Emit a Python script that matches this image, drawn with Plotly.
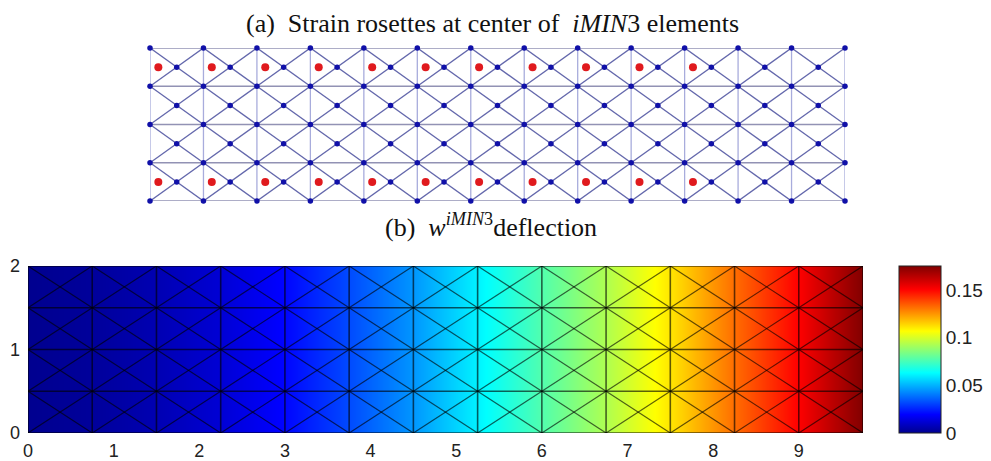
import plotly.graph_objects as go

W, H = 991, 461
node_x = [0, 0.75, 1.5, 2.25, 3.0, 3.75, 4.5, 5.25, 6.0, 6.75, 7.5, 8.25, 9.0, 9.75]
node_y = [0, 0.5, 1.0, 1.5, 2.0]
deflection = [0.0, 0.002, 0.006, 0.012, 0.020, 0.032, 0.045, 0.061, 0.077, 0.093, 0.111, 0.132, 0.151, 0.175]
rosette_x = [0.117, 0.867, 1.617, 2.367, 3.117, 3.867, 4.617, 5.367, 6.117, 6.867, 7.617]
rosette_y = [0.25, 1.75]
x_ticks = [0, 1, 2, 3, 4, 5, 6, 7, 8, 9]
y_ticks = [0, 1, 2]
cbar_ticks = [0, 0.05, 0.1, 0.15]
title_a = "(a)  Strain rosettes at center of  <i>iMIN</i>3 elements"
title_b = "(b)  <i>w</i><sup><i>iMIN</i>3</sup>deflection"

jet = [[0, "#00008f"], [0.11, "#0000ff"], [0.36, "#00ffff"], [0.61, "#ffff00"],
       [0.86, "#ff0000"], [1, "#800000"]]

def segs(pairs):
    xs, ys = [], []
    for (x0, y0), (x1, y1) in pairs:
        xs += [x0, x1, None]
        ys += [y0, y1, None]
    return xs, ys

horiz = [((node_x[0], y), (node_x[-1], y)) for y in node_y]
vert = [((x, node_y[0]), (x, node_y[-1])) for x in node_x]
diag = []
for i in range(len(node_x) - 1):
    for j in range(len(node_y) - 1):
        diag.append(((node_x[i], node_y[j]), (node_x[i + 1], node_y[j + 1])))
        diag.append(((node_x[i], node_y[j + 1]), (node_x[i + 1], node_y[j])))
corner_x = [x for x in node_x for _ in node_y]
corner_y = [y for _ in node_x for y in node_y]
mid_x, mid_y = [], []
for i in range(len(node_x) - 1):
    for j in range(len(node_y) - 1):
        mid_x.append((node_x[i] + node_x[i + 1]) / 2)
        mid_y.append((node_y[j] + node_y[j + 1]) / 2)

fig = go.Figure()
# (a) mesh
for pairs, col, w in [(horiz, "#9292b4", 1.5), (vert, "#a8acdc", 1.3), (diag, "#6468ac", 1.4)]:
    xs, ys = segs(pairs)
    fig.add_trace(go.Scatter(x=xs, y=ys, mode="lines", line=dict(color=col, width=w),
                             xaxis="x", yaxis="y", showlegend=False, cliponaxis=False))
fig.add_trace(go.Scatter(x=corner_x + mid_x, y=corner_y + mid_y, mode="markers",
                         marker=dict(color="#1010a8", size=5.5), xaxis="x", yaxis="y",
                         showlegend=False, cliponaxis=False))
fig.add_trace(go.Scatter(x=[x for x in rosette_x for _ in rosette_y],
                         y=[y for _ in rosette_x for y in rosette_y], mode="markers",
                         marker=dict(color="#e01a1e", size=8), xaxis="x", yaxis="y",
                         showlegend=False, cliponaxis=False))
# (b) deflection field
fig.add_trace(go.Heatmap(x=node_x, y=[node_y[0], node_y[-1]], z=[deflection, deflection],
                         colorscale=jet, zmin=0, zmax=0.175, zsmooth="best",
                         xaxis="x2", yaxis="y2",
                         colorbar=dict(x=899 / W, xanchor="left", y=(H - 433) / H, yanchor="bottom",
                                       lenmode="pixels", len=167, thicknessmode="pixels", thickness=42,
                                       xpad=0, ypad=0, outlinecolor="#222", outlinewidth=1,
                                       tickvals=cbar_ticks, ticktext=["0", "0.05", "0.1", "0.15"],
                                       ticks="", ticklabelposition="outside",
                                       tickfont=dict(family="Liberation Sans", size=19, color="#222"))))
for pairs, w in [(horiz, 1.5), (vert, 1.6), (diag, 1.2)]:
    xs, ys = segs(pairs)
    fig.add_trace(go.Scatter(x=xs, y=ys, mode="lines", line=dict(color="rgba(0,0,0,0.62)", width=w),
                             xaxis="x2", yaxis="y2", showlegend=False))

fig.update_layout(
    width=W, height=H, margin=dict(l=0, r=0, t=0, b=0, autoexpand=False), autosize=False,
    paper_bgcolor="white", plot_bgcolor="white",
    xaxis=dict(domain=[150 / W, 845 / W], range=[0, 9.75], visible=False, anchor="y"),
    yaxis=dict(domain=[1 - 201 / H, 1 - 48 / H], range=[0, 2], visible=False, anchor="x"),
    xaxis2=dict(domain=[28 / W, 863 / W], range=[0, 9.75], tickvals=x_ticks, ticks="", showgrid=False,
                zeroline=False, showline=False, anchor="y2", ticklabelstandoff=5,
                tickfont=dict(family="Liberation Sans", size=18, color="#222")),
    yaxis2=dict(domain=[1 - 433 / H, 1 - 266 / H], range=[0, 2], tickvals=y_ticks, ticks="", showgrid=False,
                zeroline=False, showline=False, anchor="x2", ticklabelstandoff=7,
                tickfont=dict(family="Liberation Sans", size=18, color="#222")),
    annotations=[
        dict(text=title_a, x=492 / W, y=1 - 24 / H, xref="paper", yref="paper", showarrow=False,
             xanchor="center", yanchor="middle",
             font=dict(family="Liberation Serif", size=26, color="#111")),
        dict(text=title_b, x=491 / W, y=1 - 226 / H, xref="paper", yref="paper", showarrow=False,
             xanchor="center", yanchor="middle",
             font=dict(family="Liberation Serif", size=26, color="#111")),
    ],
)
fig.write_html("out.html", config={"displayModeBar": False},
               post_script="document.body.style.margin='0';document.body.style.overflow='hidden';")
